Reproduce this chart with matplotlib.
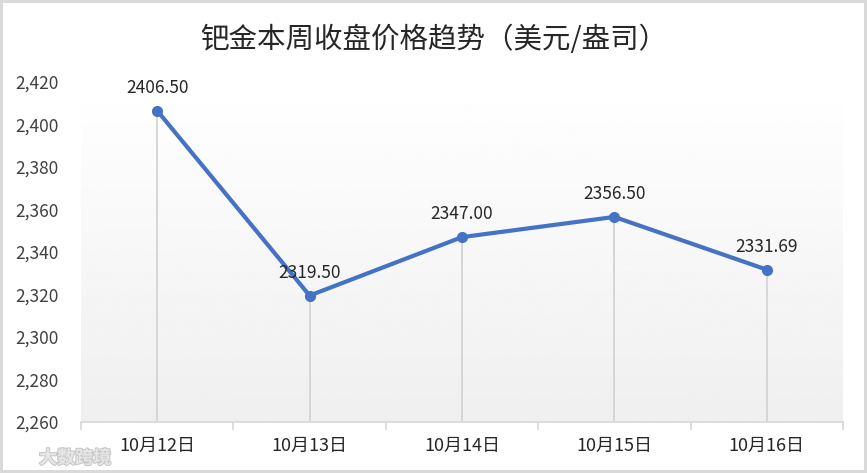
import numpy as np
import matplotlib.pyplot as plt
import matplotlib.patheffects as pe

plt.rcParams['font.family'] = ['Noto Sans CJK SC', 'DejaVu Sans']

dates = ['10月12日', '10月13日', '10月14日', '10月15日', '10月16日']
prices = [2406.50, 2319.50, 2347.00, 2356.50, 2331.69]
yticks = [2260, 2280, 2300, 2320, 2340, 2360, 2380, 2400, 2420]

fig = plt.figure(figsize=(8.67, 4.73), dpi=100)
fig.patch.set_edgecolor('#d9d9d9')
fig.patch.set_linewidth(3)
ax = fig.add_axes([81/867, 1-422/473, (843-81)/867, (422-82)/473])

x = np.arange(len(dates))
ax.set_xlim(-0.5, len(dates)-0.5)
ax.set_ylim(2260, 2420)

# background gradient of plot area
grad = np.linspace(1.0, 0.937, 256).reshape(-1, 1)
ax.imshow(grad, cmap='gray', vmin=0, vmax=1, aspect='auto',
          extent=[-0.5, len(dates)-0.5, 2260, 2420], zorder=0)

# drop lines
ax.vlines(x, 2260, prices, color='#d4d4d4', lw=1.3, zorder=1)
ax.plot(x, prices, color='#4472c4', lw=3, marker='o', ms=7, zorder=3)
for xi, v in zip(x, prices):
    ax.annotate(f'{v:.2f}', (xi, v), xytext=(0, 10), textcoords='offset points',
                ha='center', va='bottom', fontsize=12.5, color='#262626')

for s in ['top', 'right', 'left']:
    ax.spines[s].set_visible(False)
ax.spines['bottom'].set_color('#d9d9d9')
ax.spines['bottom'].set_linewidth(1.3)

ax.set_yticks(yticks)
ax.set_yticklabels([f'{v:,}' for v in yticks])
ax.tick_params(axis='y', length=0, pad=16, labelsize=12.5, labelcolor='#404040')
ax.set_xticks(np.arange(-0.5, len(dates)), minor=False)
ax.set_xticklabels([])
ax.tick_params(axis='x', which='major', length=6, color='#d9d9d9', width=1.3)
ax.set_xticks(x, minor=True)
ax.set_xticklabels(dates, minor=True)
ax.tick_params(axis='x', which='minor', length=0, pad=11, labelsize=13, labelcolor='#262626')

fig.text(0.5, 1-40/473, '钯金本周收盘价格趋势（美元/盎司）', ha='center', va='center',
         fontsize=20.5, color='#262626', fontweight='light')

fig.text(0.045, 1-458/473, '大数跨境', ha='left', va='center', fontsize=13,
         color='#e6e6e6', fontweight='bold',
         path_effects=[pe.withStroke(linewidth=1.5, foreground='#c8c8c8')])

fig.savefig('out.png', dpi=100)
